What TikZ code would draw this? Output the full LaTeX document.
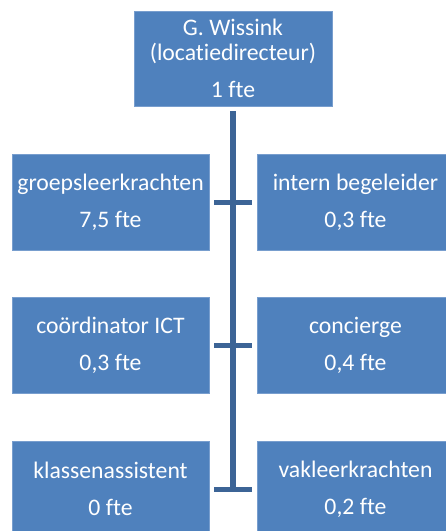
\documentclass[tikz,border=0pt]{standalone}
\usepackage{fontspec}
\setmainfont[Ligatures={NoCommon,NoContextual}]{Carlito}
\usetikzlibrary{calc}
\definecolor{boxblue}{RGB}{79,129,189}
\definecolor{boxedge}{RGB}{120,158,206}
\definecolor{linkblue}{RGB}{60,100,150}
\tikzset{
  orgbox/.style={rectangle, fill=boxblue, draw=boxedge, line width=0.8pt, text=white,
    align=center, inner sep=0pt, font=\fontsize{23.7}{25}\selectfont},
  stem/.style={draw=linkblue, line width=6.5pt},
  bar/.style={draw=linkblue, line width=5pt, shorten <=5pt, shorten >=5pt}
}
\begin{document}
\begin{tikzpicture}[x=1pt,y=1pt]
\useasboundingbox (0,0) rectangle (446,-531);
\clip (0,0) rectangle (446,-531);
\node[orgbox, minimum width=198pt, minimum height=95pt] (top) at (233,-58.5)
  {G. Wissink\\(locatiedirecteur)\\[12pt]1 fte};
\node[orgbox, minimum width=197pt, minimum height=96pt] (l1) at (110.5,-202) {groepsleerkrachten\\[12pt]7,5 fte};
\node[orgbox, minimum width=197pt, minimum height=96pt] (r1) at (355.5,-202) {intern begeleider\\[12pt]0,3 fte};
\node[orgbox, minimum width=197pt, minimum height=96pt] (l2) at (110.5,-345.5) {coördinator ICT\\[12pt]0,3 fte};
\node[orgbox, minimum width=197pt, minimum height=96pt] (r2) at (355.5,-345.5) {concierge\\[12pt]0,4 fte};
\node[orgbox, minimum width=197pt, minimum height=96pt] (l3) at (110.5,-489) {klassenassistent\\[12pt]0 fte};
\node[orgbox, minimum width=197pt, minimum height=96pt] (r3) at (355.5,-489) {vakleerkrachten\\[12pt]0,2 fte};
\coordinate (stemend) at ($(top.south |- l3.east)+(0,-2.5)$);
\draw[stem, shorten <=5pt] (top.south) -- (stemend);
\draw[bar] (l1.east) -- (r1.west);
\draw[bar] (l2.east) -- (r2.west);
\draw[bar] (l3.east) -- (r3.west);
\end{tikzpicture}
\end{document}
